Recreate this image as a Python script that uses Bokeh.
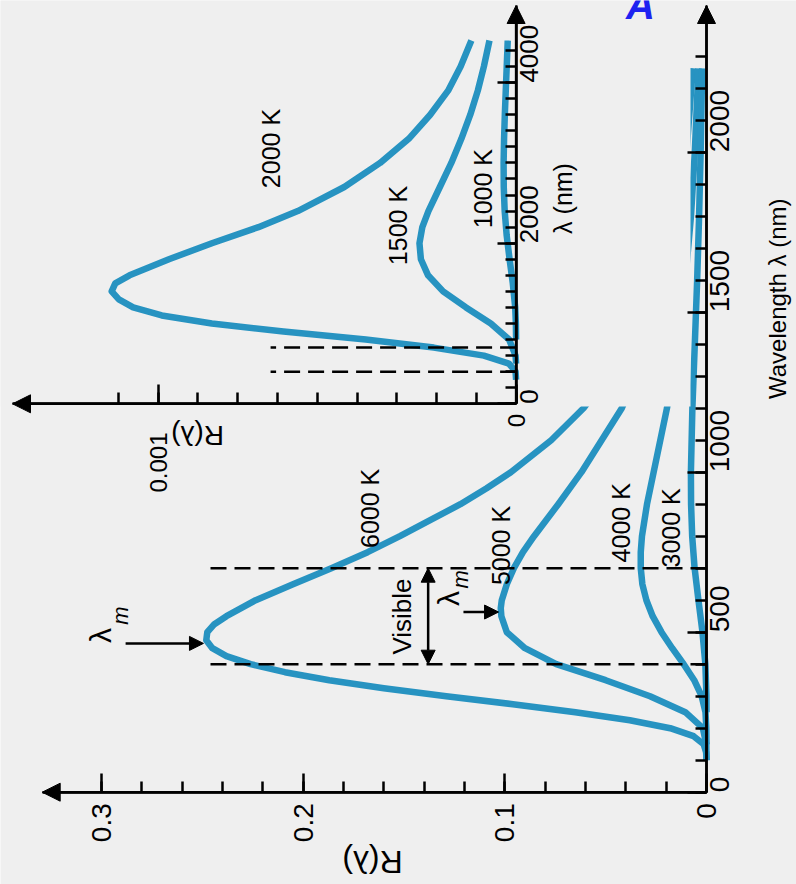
import math
from bokeh.plotting import figure
from bokeh.models import (Range1d, FixedTicker, Arrow, NormalHead, NumeralTickFormatter, LinearAxis,
                          CustomJSTickFormatter)
from bokeh.core.properties import value
from bokeh.embed import file_html
from bokeh.resources import INLINE

BG = "#efefef"
BLUE = "#2793c1"
FONT = "Liberation Sans"

# ---------------- data ----------------
WL_6000 = [100, 125, 150, 175, 200, 225, 250, 275, 300, 325, 350, 375, 400, 425, 450, 475, 500, 525, 550,
           600, 650, 700, 750, 800, 850, 900, 950, 1000, 1100, 1200, 1300, 1400, 1600, 1800, 2000, 2100, 2262]
R_6000 = [0.0, 0.0002, 0.0014, 0.0064, 0.018, 0.038, 0.065, 0.096, 0.129, 0.160, 0.187, 0.209, 0.226, 0.238,
          0.245, 0.248, 0.2475, 0.244, 0.238, 0.2235, 0.205, 0.1860, 0.1680, 0.152, 0.137, 0.122, 0.109,
          0.097, 0.077, 0.061, 0.049, 0.039, 0.026, 0.0178, 0.0126, 0.0107, 0.0083]

WL_5000 = [100, 150, 200, 250, 300, 350, 400, 450, 500, 550, 575, 600, 650, 700, 750, 800, 900, 1000, 1200,
           1400, 1600, 1800, 2000, 2262]
R_5000 = [0.0, 0.0001, 0.0018, 0.0105, 0.028, 0.050, 0.0745, 0.090, 0.099, 0.1017, 0.102, 0.1015, 0.099,
          0.0955, 0.091, 0.0855, 0.0735, 0.062, 0.042, 0.0285, 0.0195, 0.0138, 0.0099, 0.0068]

WL_4000 = [150, 200, 250, 300, 350, 400, 450, 500, 550, 600, 650, 700, 750, 800, 900, 1000, 1200, 1400,
           1600, 1800, 2000, 2262]
R_4000 = [0.0, 0.0001, 0.0005, 0.0024, 0.0061, 0.0113, 0.0170, 0.0223, 0.0267, 0.0298, 0.0318, 0.0326,
          0.0326, 0.0320, 0.0295, 0.0262, 0.0196, 0.0143, 0.0105, 0.0077, 0.0058, 0.0040]

WL_3000 = [250, 300, 400, 500, 600, 700, 800, 900, 1000, 1200, 1400, 1600, 1800, 2000, 2262]
R_3000 = [0.0, 0.00004, 0.00056, 0.0020, 0.0040, 0.0059, 0.0071, 0.00765, 0.00773, 0.0070, 0.0058,
          0.00463, 0.00367, 0.0029, 0.00214]

WL_2000 = [300, 400, 500, 600, 700, 800, 900, 1000, 1100, 1200, 1300, 1400, 1500, 1600, 1800, 2000, 2200,
           2400, 2700, 3000, 3300, 3600, 3900, 4200, 4524]
R_2000 = [0.0, 0.0000015, 0.00002, 0.00009, 0.00023, 0.00042, 0.00065, 0.00085, 0.00099, 0.00107,
          0.00111, 0.00113, 0.00112, 0.00108, 0.00097, 0.00085, 0.00072, 0.00061, 0.00048, 0.00038,
          0.00030, 0.00024, 0.00019, 0.000155, 0.000125]

WL_1500 = [500, 600, 800, 1000, 1200, 1400, 1600, 1800, 2000, 2200, 2400, 2700, 3000, 3300, 3600, 3900, 4200, 4524]
R_1500 = [0.0, 0.0000015, 0.0000196, 0.0000707, 0.00014, 0.000204, 0.000246, 0.000266, 0.000270, 0.000262,
          0.000245, 0.000213, 0.000181, 0.000153, 0.000128, 0.000107, 0.00009, 0.0000744]

WL_1000 = [800, 1000, 1200, 1500, 1800, 2100, 2400, 2700, 3000, 3300, 3600, 3900, 4200, 4524]
R_1000 = [0.0, 0.0000006, 0.0000025, 0.0000092, 0.0000182, 0.0000264, 0.0000319, 0.0000345, 0.0000349,
          0.0000336, 0.0000315, 0.0000289, 0.0000262, 0.0000234]

VISIBLE = [400, 700]            # nm, dashed lines
VIS_R_MAIN = 0.248
VIS_R_INSET = 0.000686

MAIN_R_TICKS = [0, 0.1, 0.2, 0.3]
MAIN_R_MINOR = [0.02 * k for k in range(16)]
MAIN_WL_TICKS = [0, 500, 1000, 1500, 2000]
MAIN_WL_MINOR = [100 * k for k in range(24)]
INSET_WL_TICKS = [0, 2000, 4000]
INSET_WL_MINOR = [200 * k for k in range(23)]
INSET_R_TICKS = [0, 0.001]
INSET_R_MINOR = [0.001 / 9 * k for k in range(11)]
INSET_R_TICK_LABELS = ["0", "0.001"]

CURVE_LABELS_MAIN = ["6000 K", "5000 K", "4000 K", "3000 K"]
CURVE_LABELS_MAIN_R = [0.1666, 0.1021, 0.0426, 0.0178]
CURVE_LABELS_MAIN_WL = [887, 771, 842, 826]
CURVE_LABELS_INSET = ["2000 K", "1500 K", "1000 K"]
CURVE_LABELS_INSET_R = [0.000686, 0.000329, 0.0000911]
CURVE_LABELS_INSET_WL = [3179, 2220, 2680]

# ---------------- layout geometry (canvas = whole picture) ----------------
W, H = 796, 884
X0, Y0 = 706.0, 791.7           # main origin (px)
PX_PER_R, PX_PER_WL = 2017.0, 0.32
IX0, IY0 = 515.6, 403.3         # inset origin (px)
IN_PX_PER_R, IN_PX_PER_WL = 357900.0, 0.0803

R_START, R_END = X0 / PX_PER_R, -(W - X0) / PX_PER_R
WL_START, WL_END = -(H - Y0) / PX_PER_WL, Y0 / PX_PER_WL
IR_START, IR_END = IX0 / IN_PX_PER_R, -(W - IX0) / IN_PX_PER_R
IW_START, IW_END = -(H - IY0) / IN_PX_PER_WL, IY0 / IN_PX_PER_WL

R_ARROW = (X0 - 41.7) / PX_PER_R
WL_ARROW = (Y0 - 5) / PX_PER_WL
IR_ARROW = (IX0 - 12) / IN_PX_PER_R
IW_ARROW = (IY0 - 5) / IN_PX_PER_WL

p = figure(width=W, height=H, x_range=Range1d(R_START, R_END), y_range=Range1d(WL_START, WL_END),
           x_axis_location="below", y_axis_location="right",
           toolbar_location=None, output_backend="svg", min_border=0,
           background_fill_color=BG, border_fill_color=BG, outline_line_color=None)
p.grid.visible = False
p.extra_x_ranges = {"ix": Range1d(IR_START, IR_END)}
p.extra_y_ranges = {"iy": Range1d(IW_START, IW_END)}


def style_axis(ax, size):
    ax.axis_line_width = 2.5
    ax.major_tick_line_width = 2.5
    ax.minor_tick_line_width = 2.5
    ax.major_tick_in = 19
    ax.major_tick_out = 0
    ax.minor_tick_in = 11
    ax.minor_tick_out = 0
    ax.major_label_text_font = FONT
    ax.major_label_text_font_size = size
    ax.major_label_text_color = "black"
    ax.major_label_orientation = math.pi / 2
    ax.axis_label_text_font = FONT
    ax.axis_label_text_font_style = "normal"
    ax.axis_label_text_color = "black"


# main axes, pinned at R = 0 and lambda = 0
xa, ya = p.xaxis[0], p.yaxis[0]
style_axis(xa, "28px")
style_axis(ya, "28px")
xa.fixed_location = 0
xa.bounds = (0, R_ARROW)
xa.ticker = FixedTicker(ticks=MAIN_R_TICKS, minor_ticks=MAIN_R_MINOR)
xa.formatter = NumeralTickFormatter(format="0.[0]")
xa.major_label_standoff = 11
ya.fixed_location = 0
ya.bounds = (0, WL_ARROW)
ya.ticker = FixedTicker(ticks=MAIN_WL_TICKS, minor_ticks=MAIN_WL_MINOR)
ya.major_label_standoff = 13
ya.axis_label = "Wavelength λ (nm)"
ya.axis_label_text_font_size = "24px"
ya.axis_label_standoff = 36
ya.axis_label_orientation = math.pi / 2

HEAD = dict(fill_color="black", line_color="black")
p.add_layout(Arrow(end=NormalHead(size=18, **HEAD), x_start=0, y_start=0, x_end=0, y_end=WL_ARROW,
                   line_width=2.5))
p.add_layout(Arrow(end=NormalHead(size=18, **HEAD), x_start=0, y_start=0, x_end=R_ARROW, y_end=0,
                   line_width=2.5))

TXT = dict(text_font=value(FONT), text_color="black", text_align="center", text_baseline="middle")
# title of the R axis (upside down, as in the rotated original)
p.text(x=[(X0 - 372) / PX_PER_R], y=[(Y0 - 861) / PX_PER_WL], text=["R(λ)"], angle=math.pi,
       text_font_size=value("32px"), **TXT)

LW = 6.5
for wl, r in ((WL_6000, R_6000), (WL_5000, R_5000), (WL_4000, R_4000), (WL_3000, R_3000)):
    p.line(r, wl, line_color=BLUE, line_width=LW, line_join="round")

p.segment(x0=[0, 0], x1=[VIS_R_MAIN] * 2, y0=VISIBLE, y1=VISIBLE, line_color="black",
          line_width=2.5, line_dash="16 8")

# inset background (hides the main curves behind the inset)
BOX_RIGHT = (X0 - 690) / PX_PER_R
BOX_BOTTOM = (Y0 - 406) / PX_PER_WL
p.quad(left=R_START, right=BOX_RIGHT, bottom=BOX_BOTTOM, top=WL_END, fill_color=BG, line_color=None)

# inset curves
for wl, r in ((WL_2000, R_2000), (WL_1500, R_1500), (WL_1000, R_1000)):
    p.line(r, wl, line_color=BLUE, line_width=LW, line_join="round", x_range_name="ix", y_range_name="iy")
p.segment(x0=[0, 0], x1=[VIS_R_INSET] * 2, y0=VISIBLE, y1=VISIBLE, line_color="black",
          line_width=2.5, line_dash="16 8", x_range_name="ix", y_range_name="iy")

# inset axes, pinned at the inset origin
ixa = LinearAxis(x_range_name="ix", y_range_name="iy", fixed_location=0, bounds=(0, IR_ARROW))
style_axis(ixa, "25px")
ixa.ticker = FixedTicker(ticks=INSET_R_TICKS, minor_ticks=INSET_R_MINOR)
ixa.formatter = CustomJSTickFormatter(code="return ''")
p.add_layout(ixa, "below")
iya = LinearAxis(x_range_name="ix", y_range_name="iy", fixed_location=0, bounds=(0, IW_ARROW))
style_axis(iya, "26px")
iya.ticker = FixedTicker(ticks=INSET_WL_TICKS, minor_ticks=INSET_WL_MINOR)
iya.major_label_standoff = 13
p.add_layout(iya, "right")
p.add_layout(Arrow(end=NormalHead(size=18, **HEAD), x_start=0, y_start=0, x_end=0, y_end=IW_ARROW,
                   line_width=2.5, x_range_name="ix", y_range_name="iy"))
p.add_layout(Arrow(end=NormalHead(size=18, **HEAD), x_start=0, y_start=0, x_end=IR_ARROW, y_end=0,
                   line_width=2.5, x_range_name="ix", y_range_name="iy"))

p.text(x=INSET_R_TICKS, y=[(IY0 - 420) / IN_PX_PER_WL, (IY0 - 462) / IN_PX_PER_WL], text=INSET_R_TICK_LABELS,
       angle=math.pi / 2, text_font_size=value("24px"), x_range_name="ix", y_range_name="iy", **TXT)
p.text(x=[(IX0 - 562) / IN_PX_PER_R], y=[2557], text=["λ (nm)"], angle=math.pi / 2,
       text_font_size=value("25px"), x_range_name="ix", y_range_name="iy", **TXT)
p.text(x=[0.00089], y=[(IY0 - 435) / IN_PX_PER_WL], text=["R(λ)"], angle=math.pi,
       text_font_size=value("28px"), x_range_name="ix", y_range_name="iy", **TXT)

# curve labels
p.text(x=CURVE_LABELS_MAIN_R, y=CURVE_LABELS_MAIN_WL, text=CURVE_LABELS_MAIN, angle=math.pi / 2,
       text_font_size=value("25px"), **TXT)
p.text(x=CURVE_LABELS_INSET_R, y=CURVE_LABELS_INSET_WL, text=CURVE_LABELS_INSET, angle=math.pi / 2,
       text_font_size=value("25px"), x_range_name="ix", y_range_name="iy", **TXT)

# visible band annotation
p.add_layout(Arrow(start=NormalHead(size=14, **HEAD), end=NormalHead(size=14, **HEAD),
                   x_start=0.138, y_start=VISIBLE[0], x_end=0.138, y_end=VISIBLE[1], line_width=2.5))
p.text(x=[0.1512], y=[549], text=["Visible"], angle=math.pi / 2, text_font_size=value("26px"), **TXT)

# lambda_m markers
p.add_layout(Arrow(end=NormalHead(size=14, **HEAD), x_start=0.288, y_start=465, x_end=0.2494, y_end=465,
                   line_width=2.5))
p.add_layout(Arrow(end=NormalHead(size=14, **HEAD), x_start=0.1205, y_start=563, x_end=0.1031, y_end=563,
                   line_width=2.5))
p.text(x=[0.3004, 0.128], y=[490, 605], text=["λ", "λ"], angle=math.pi / 2,
       text_font_size=value("30px"), **TXT)
p.text(x=[0.2905, 0.122], y=[552, 665], text=["m", "m"], angle=math.pi / 2,
       text_font_size=value("22px"), text_font_style="italic", text_font=value(FONT),
       text_color="black", text_align="center", text_baseline="middle")

# blue letter cut off by the top edge of the picture (only its lower part shows, as in the original)
p.text(x=[(X0 - 640) / PX_PER_R], y=[(Y0 - 26) / PX_PER_WL], text=["A"], text_align="center",
       text_baseline="bottom", text_font=value(FONT), text_font_size=value("40px"),
       text_font_style="bold italic", text_color="#1e22f0")

open("out.html", "w").write(file_html(p, INLINE))
